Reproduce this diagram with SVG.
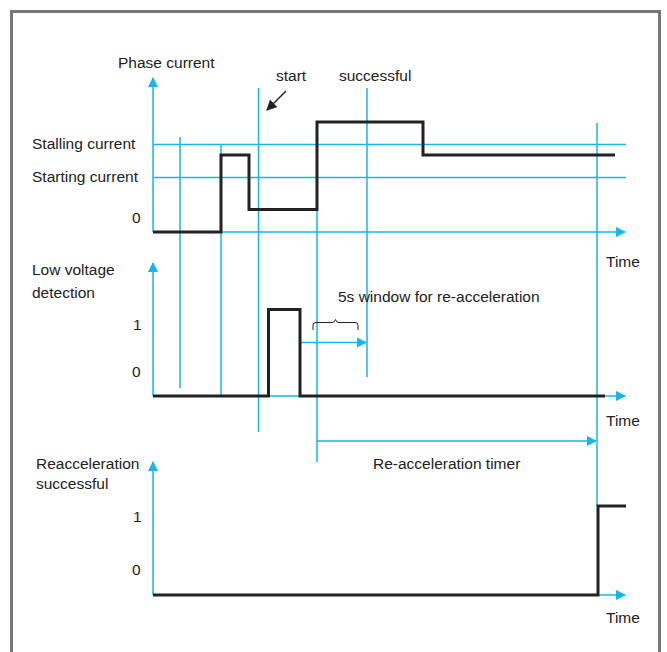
<svg xmlns="http://www.w3.org/2000/svg" width="667" height="652" viewBox="0 0 667 652">
<defs>
<style>
.c{stroke:#14b6ec;stroke-width:1.5;fill:none}
.s{stroke:#222;stroke-width:3;fill:none;stroke-linejoin:miter}
text{font-family:"Liberation Sans",Arial,sans-serif;font-size:15.5px;fill:#222}
</style>
<marker id="a" viewBox="0 0 10 10" refX="9" refY="5" markerWidth="7" markerHeight="7" orient="auto" markerUnits="strokeWidth"><path d="M0,0L10,5L0,10z" fill="#14b6ec"/></marker>
<marker id="b" viewBox="0 0 10 10" refX="9" refY="5" markerWidth="7" markerHeight="7" orient="auto" markerUnits="strokeWidth"><path d="M0,0L10,5L0,10z" fill="#222"/></marker>
</defs>
<rect x="0" y="0" width="667" height="652" fill="#fff"/>
<rect x="11.5" y="11.5" width="648" height="650" fill="none" stroke="#777" stroke-width="3"/>
<g id="connectors">
<path class="c" d="M153,232V78" marker-end="url(#a)"/>
<path class="c" d="M153,232H625" marker-end="url(#a)"/>
<path class="c" d="M153,396V263" marker-end="url(#a)"/>
<path class="c" d="M153,396H625" marker-end="url(#a)"/>
<path class="c" d="M153,595V462" marker-end="url(#a)"/>
<path class="c" d="M153,595H625" marker-end="url(#a)"/>
<path class="c" d="M153,144.5H626M153,177.5H626"/>
<path class="c" d="M180,137V388M221,144V396M258.5,88V432M317,122V462M367,88V377M597,123V506"/>
<path class="c" d="M300,342.5H366" marker-end="url(#a)"/>
<path class="c" d="M317,441H596" marker-end="url(#a)"/>
<path d="M313,330V325Q313,322.5 316,322.5H332Q335,322.5 335.5,319.5Q336,322.5 339,322.5H355Q358,322.5 358,325V330" fill="none" stroke="#222" stroke-width="1"/>
<path d="M286,91L267,110" stroke="#222" stroke-width="1.5" fill="none" marker-end="url(#b)"/>
</g>
<g id="signal-phase"><path class="s" d="M153,232H221V155H249V209.5H317V122H423V155H615"/></g>
<g id="signal-lowvoltage"><path class="s" d="M153,396H268.5V309.5H300V396H605"/></g>
<g id="signal-reacc"><path class="s" d="M153,595H598V506H626"/></g>
<g id="labels">
<text x="118" y="68">Phase current</text>
<text x="276" y="81">start</text>
<text x="339" y="81">successful</text>
<text x="32" y="148.5">Stalling current</text>
<text x="32" y="181.5">Starting current</text>
<text x="132" y="223">0</text>
<text x="606" y="267">Time</text>
<text x="32" y="275">Low voltage</text>
<text x="32" y="298">detection</text>
<text x="133" y="330">1</text>
<text x="132" y="377">0</text>
<text x="338" y="302">5s window for re-acceleration</text>
<text x="606" y="426">Time</text>
<text x="373" y="469">Re-acceleration timer</text>
<text x="36" y="469">Reacceleration</text>
<text x="36" y="489">successful</text>
<text x="133" y="522">1</text>
<text x="132" y="575">0</text>
<text x="606" y="623">Time</text>
</g>
</svg>
